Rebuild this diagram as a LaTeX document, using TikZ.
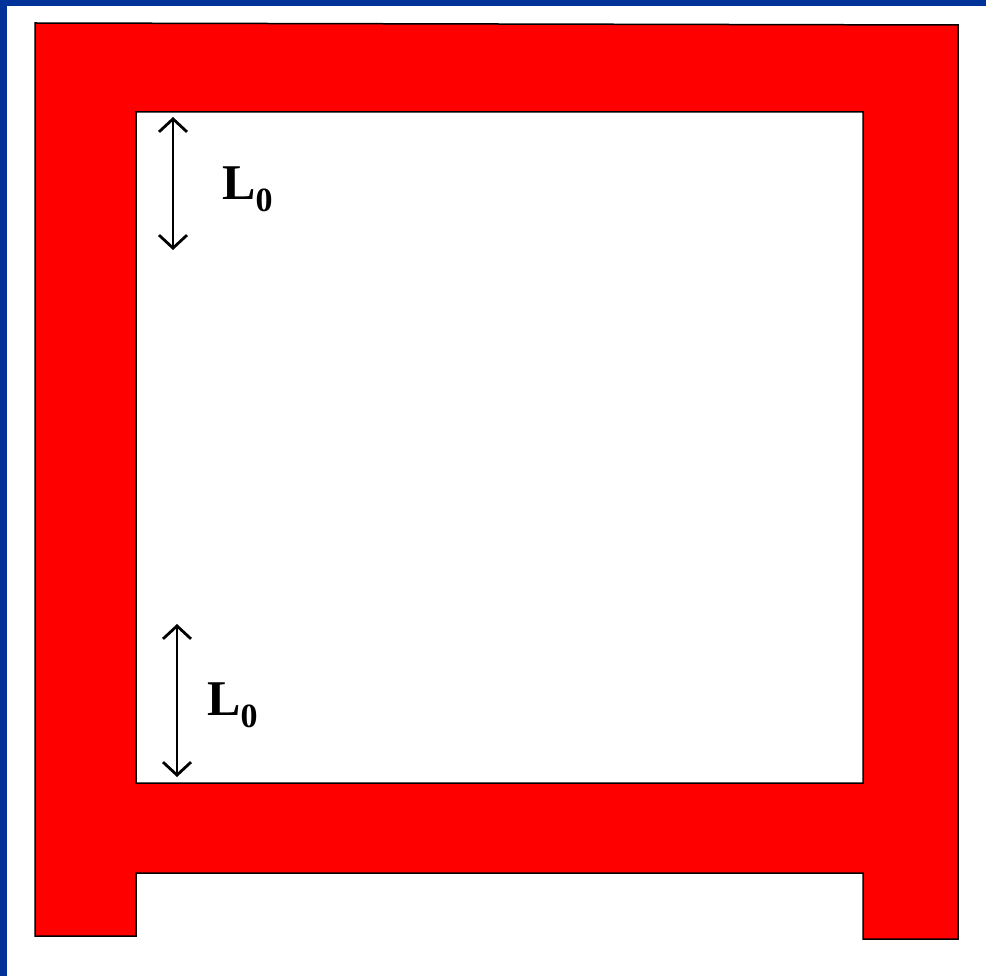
\documentclass[tikz,border=0pt]{standalone}
\usepackage{fontspec}
\setmainfont{Liberation Serif}
\usetikzlibrary{arrows.meta}
\definecolor{frameblue}{RGB}{0,51,153}
\tikzset{
  redframe/.style={fill=red, draw=black, line width=1.5pt, even odd rule},
  dimarrow/.style={draw=black, line width=2.8pt, {Straight Barb[length=13pt,width=28pt]}-{Straight Barb[length=13pt,width=28pt]}},
  lbl/.style={inner sep=0pt, anchor=base west, font=\fontsize{50}{50}\selectfont\bfseries}
}
\begin{document}
\begin{tikzpicture}[x=1pt,y=-1pt]
\useasboundingbox (0,0) rectangle (986,976);
\fill[white] (0,0) rectangle (986,976);
\fill[frameblue] (0,0) rectangle (986,6);
\fill[frameblue] (0,0) rectangle (7,976);
\path[redframe] (35,23) -- (958,25) -- (958,939) -- (863,939) -- (863,873) -- (136,873) -- (136,936) -- (35,936) -- cycle
  (136,112) -- (863,112) -- (863,783) -- (136,783) -- cycle;
\coordinate (a1) at (173,117);
\coordinate (a2) at (173,250);
\coordinate (b1) at (177,624);
\coordinate (b2) at (177,777);
\draw[dimarrow] (a1) -- (a2);
\draw[dimarrow] (b1) -- (b2);
\node[lbl] (l1) at (222,200) {L\raisebox{-12pt}{\fontsize{34}{34}\selectfont 0}};
\node[lbl] (l2) at (207,715) {L\raisebox{-12pt}{\fontsize{34}{34}\selectfont 0}};
\end{tikzpicture}
\end{document}
